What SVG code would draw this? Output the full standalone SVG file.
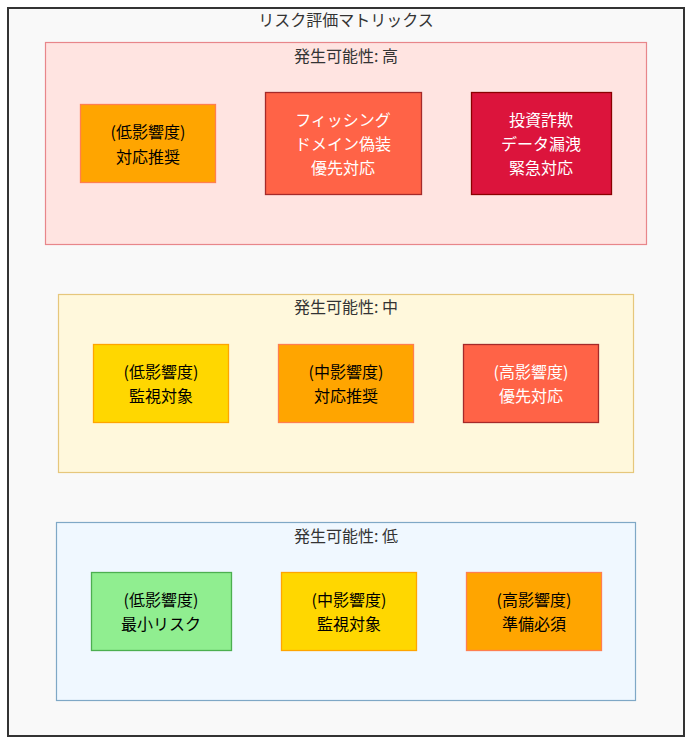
<svg xmlns="http://www.w3.org/2000/svg" width="692" height="744" viewBox="0 0 692 744">
<style>
text{font-family:"Noto Sans CJK JP","Noto Sans",sans-serif;font-size:16px;text-anchor:middle;dominant-baseline:central}
.lbl{fill:#333}
.dk{fill:#000}
.wt{fill:#fff}
.n{stroke-width:1.3}
</style>
<rect x="8" y="8" width="676" height="728" fill="#f9f9f9" stroke="#333" stroke-width="2"/>
<text class="lbl" x="346" y="19">リスク評価マトリックス</text>
<g id="cluster-high">
<rect x="45.5" y="42.5" width="601" height="202" fill="#ffe4e1" stroke="#e8868a" stroke-width="1.2"/>
<text class="lbl" x="346" y="55">発生可能性: 高</text>
</g>
<g id="cluster-mid">
<rect x="58.5" y="294.5" width="575" height="178" fill="#fff8dc" stroke="#e6c77c" stroke-width="1.2"/>
<text class="lbl" x="346" y="306">発生可能性: 中</text>
</g>
<g id="cluster-low">
<rect x="56.5" y="522.5" width="579" height="178" fill="#f0f8ff" stroke="#7fa8c6" stroke-width="1.2"/>
<text class="lbl" x="346" y="535">発生可能性: 低</text>
</g>
<g id="h1"><rect class="n" x="80.5" y="104.5" width="135" height="78" fill="#ffa500" stroke="#ff7f50"/><text class="dk" x="148" y="131">(低影響度)</text><text class="dk" x="148" y="156">対応推奨</text></g>
<g id="h2"><rect class="n" x="265.5" y="92.5" width="156" height="102" fill="#ff6347" stroke="#a52a2a"/><text class="wt" x="343" y="119">フィッシング</text><text class="wt" x="343" y="143">ドメイン偽装</text><text class="wt" x="343" y="167">優先対応</text></g>
<g id="h3"><rect class="n" x="471.5" y="92.5" width="140" height="102" fill="#dc143c" stroke="#8b0000"/><text class="wt" x="541" y="119">投資詐欺</text><text class="wt" x="541" y="143">データ漏洩</text><text class="wt" x="541" y="167">緊急対応</text></g>
<g id="m1"><rect class="n" x="93.5" y="344.5" width="135" height="78" fill="#ffd700" stroke="#ffa500"/><text class="dk" x="161" y="371">(低影響度)</text><text class="dk" x="161" y="395">監視対象</text></g>
<g id="m2"><rect class="n" x="278.5" y="344.5" width="135" height="78" fill="#ffa500" stroke="#ff7f50"/><text class="dk" x="346" y="371">(中影響度)</text><text class="dk" x="346" y="395">対応推奨</text></g>
<g id="m3"><rect class="n" x="463.5" y="344.5" width="135" height="78" fill="#ff6347" stroke="#a52a2a"/><text class="wt" x="531" y="371">(高影響度)</text><text class="wt" x="531" y="395">優先対応</text></g>
<g id="l1"><rect class="n" x="91.5" y="572.5" width="140" height="78" fill="#90ee90" stroke="#4caf50"/><text class="dk" x="161" y="599">(低影響度)</text><text class="dk" x="161" y="623">最小リスク</text></g>
<g id="l2"><rect class="n" x="281.5" y="572.5" width="135" height="78" fill="#ffd700" stroke="#ffa500"/><text class="dk" x="349" y="599">(中影響度)</text><text class="dk" x="349" y="623">監視対象</text></g>
<g id="l3"><rect class="n" x="466.5" y="572.5" width="135" height="78" fill="#ffa500" stroke="#ff7f50"/><text class="dk" x="534" y="599">(高影響度)</text><text class="dk" x="534" y="623">準備必須</text></g>
<g id="connectors"></g>
</svg>
